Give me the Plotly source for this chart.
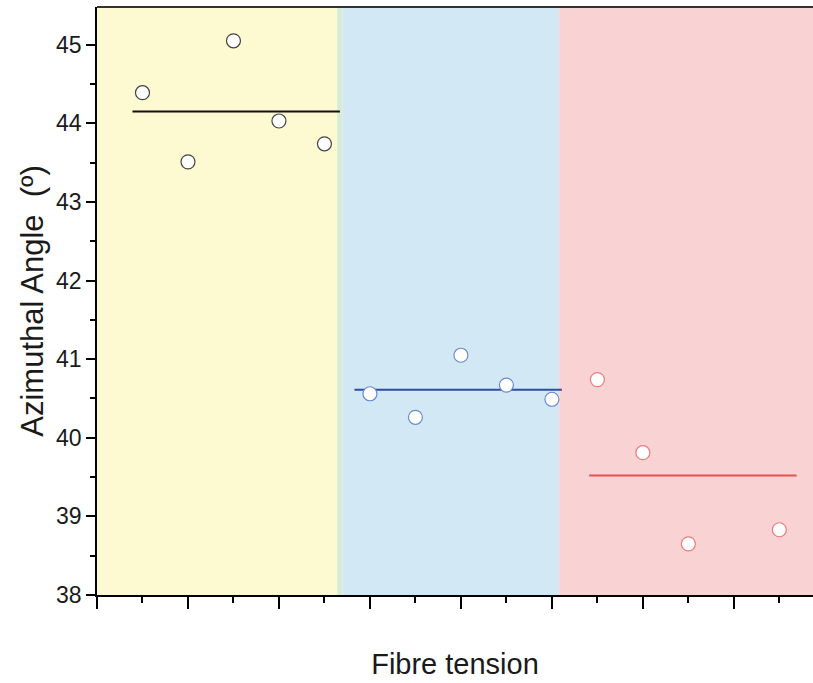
import plotly.graph_objects as go

# Data
x_yellow = [0.5, 1.0, 1.5, 2.0, 2.5]
y_yellow = [44.39, 43.51, 45.05, 44.03, 43.74]
x_blue = [3.0, 3.5, 4.0, 4.5, 5.0]
y_blue = [40.56, 40.26, 41.05, 40.67, 40.49]
x_red = [5.5, 6.0, 6.5, 7.5]
y_red = [40.74, 39.81, 38.65, 38.83]

mean_yellow_x = [0.39, 2.67]
mean_yellow = 44.15
mean_blue_x = [2.83, 5.11]
mean_blue = 40.61
mean_red_x = [5.41, 7.69]
mean_red = 39.52

regions = [
    (0.0, 2.64, "#FDF9D0"),
    (2.64, 2.70, "#D7EBD6"),
    (2.70, 5.08, "#D2E8F5"),
    (5.08, 8.0, "#F9D2D3"),
]

fig = go.Figure()

for x0, x1, c in regions:
    fig.add_vrect(x0=x0, x1=x1, fillcolor=c, line_width=0, layer="below", opacity=1)

def mean_line(xs, m, color):
    fig.add_trace(go.Scatter(x=xs, y=[m, m], mode="lines",
                             line=dict(color=color, width=2), showlegend=False,
                             hoverinfo="skip"))

mean_line(mean_yellow_x, mean_yellow, "#111111")
mean_line(mean_blue_x, mean_blue, "#2E4DA0")
mean_line(mean_red_x, mean_red, "#E8504F")

def pts(xs, ys, color):
    fig.add_trace(go.Scatter(x=xs, y=ys, mode="markers", showlegend=False,
                             marker=dict(size=14, color="white",
                                         line=dict(color=color, width=1.2))))

pts(x_yellow, y_yellow, "#444444")
pts(x_blue, y_blue, "#6A8AD0")
pts(x_red, y_red, "#F07A7A")

fig.update_layout(
    width=813, height=683,
    margin=dict(l=97, r=0, t=7, b=88),
    plot_bgcolor="white", paper_bgcolor="white",
    font=dict(family="Liberation Sans, Arial, sans-serif", color="#1a1a1a"),
    showlegend=False,
)

fig.update_xaxes(
    range=[0, 7.87], showgrid=False, zeroline=False,
    showline=True, linecolor="black", linewidth=1.5, mirror=False,
    ticks="outside", tickmode="linear", tick0=0, dtick=1, ticklen=12, tickwidth=1.5,
    tickcolor="black", showticklabels=False,
    minor=dict(ticks="outside", dtick=0.5, tick0=0, ticklen=6, tickwidth=1.5, tickcolor="black"),
    title=dict(text="Fibre tension", font=dict(size=29, color="#1a1a1a"), standoff=46),
)
fig.update_yaxes(
    range=[38, 45.48], showgrid=False, zeroline=False,
    showline=True, linecolor="black", linewidth=1.5,
    ticks="outside", tickmode="linear", tick0=38, dtick=1, ticklen=9, tickwidth=1.5,
    tickcolor="black", tickfont=dict(size=23, color="#1a1a1a"),
    minor=dict(ticks="outside", dtick=0.5, tick0=38, ticklen=5, tickwidth=1.5, tickcolor="black"),
    title=dict(text="Azimuthal Angle  (º)", font=dict(size=31, color="#1a1a1a"), standoff=3),
)

# top border line
fig.add_shape(type="line", xref="paper", yref="paper", x0=0, x1=1, y0=1, y1=1,
              line=dict(color="#333333", width=2))

fig.write_html("out.html")
